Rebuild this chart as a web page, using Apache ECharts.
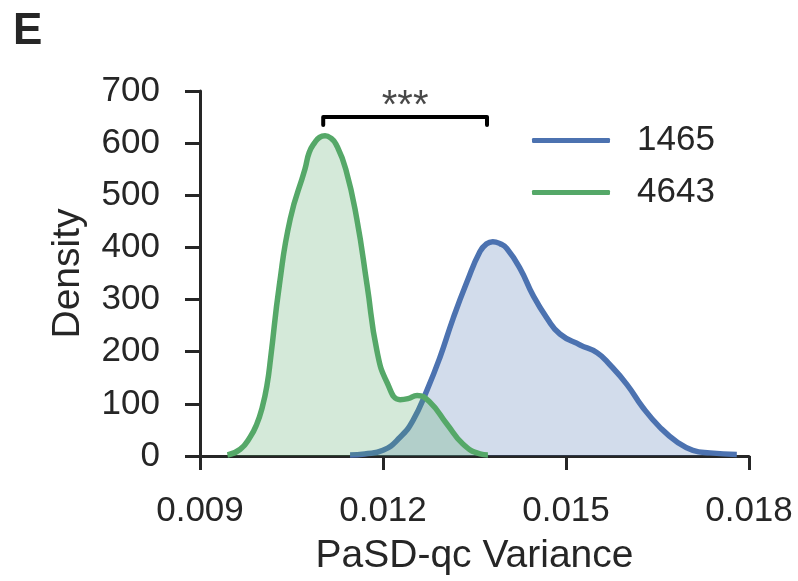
<!DOCTYPE html>
<html>
<head>
<meta charset="utf-8">
<script src="https://cdn.jsdelivr.net/npm/echarts@6/dist/echarts.min.js"></script>
<style>
  html, body { margin: 0; padding: 0; background: #fff; }
  #chart { width: 798px; height: 581px; }
</style>
</head>
<body>
<div id="chart"></div>
<script>
// KDE curves
const blueName = '1465';
const blueX = [0.01146, 0.01170, 0.01200, 0.01228, 0.01249, 0.01272, 0.01293, 0.01315, 0.01338, 0.01359, 0.01370,
  0.01380, 0.01392, 0.01403, 0.01425, 0.01446, 0.01469, 0.01490, 0.01523, 0.01551, 0.01572, 0.01600,
  0.01626, 0.01654, 0.01682, 0.01708, 0.01736, 0.01780];
const blueY = [2, 4, 11, 36, 68, 126, 188, 264, 335, 392, 407,
  411, 407, 398, 359, 308, 264, 234, 213, 198, 175, 137,
  93, 55, 27, 11, 6, 3];

const greenName = '4643';
const greenX = [0.00945, 0.00966, 0.00982, 0.00993, 0.01002, 0.01010, 0.01016, 0.01030, 0.01048, 0.01072, 0.01079,
  0.01088, 0.01096, 0.01105, 0.01114, 0.01123, 0.01139, 0.01157, 0.01174, 0.01190, 0.01207,
  0.01228, 0.01241, 0.01256, 0.01277, 0.01305, 0.01331, 0.01359, 0.01372];
const greenY = [2, 13, 36, 61, 93, 137, 190, 327, 455, 550, 582,
  601, 611, 614, 610, 598, 550, 455, 327, 202, 140,
  108, 110, 116, 103, 61, 23, 4, 2];

// significance bracket
const bracketX = [0.01102, 0.01102, 0.013705, 0.013705];
const bracketY = [635, 650, 650, 635];
const starLabel = '***';

const xTicks = { min: 0.009, max: 0.018, step: 0.003 };
const yTicks = { min: 0, max: 700, step: 100 };

const pairs = (xs, ys) => xs.map((x, i) => [x, ys[i]]);

const ink = '#262626';
const font = 'Liberation Sans, Arial, sans-serif';

const chart = echarts.init(document.getElementById('chart'));

const option = {
    backgroundColor: '#fff',
    animation: false,
    title: {
        text: 'E',
        left: 8,
        top: 5,
        textStyle: { fontFamily: font, fontSize: 44, fontWeight: 'bold', color: ink }
    },
    grid: { left: 200, right: 49, top: 91, bottom: 122 },
    legend: {
        data: [blueName, greenName],
        orient: 'vertical',
        left: 532,
        top: 123,
        padding: 0,
        icon: 'roundRect',
        itemWidth: 78,
        itemHeight: 5,
        itemGap: 17,
        textStyle: { fontFamily: font, fontSize: 35, color: ink, padding: [0, 0, 0, 22] }
    },
    xAxis: {
        type: 'value',
        min: xTicks.min,
        max: xTicks.max,
        interval: xTicks.step,
        name: 'PaSD-qc Variance',
        nameLocation: 'middle',
        nameGap: 81,
        nameTextStyle: { fontFamily: font, fontSize: 39, color: ink },
        axisLine: { lineStyle: { color: ink, width: 3 } },
        axisTick: { show: true, length: 14, lineStyle: { color: ink, width: 3 } },
        axisLabel: {
            margin: 38,
            fontFamily: font, fontSize: 35, color: ink,
            formatter: v => v.toFixed(3)
        },
        splitLine: { show: false }
    },
    yAxis: {
        type: 'value',
        min: yTicks.min,
        max: yTicks.max,
        interval: yTicks.step,
        name: 'Density',
        nameLocation: 'middle',
        nameGap: 112,
        nameTextStyle: { fontFamily: font, fontSize: 39, color: ink },
        axisLine: { show: true, lineStyle: { color: ink, width: 3 } },
        axisTick: { show: true, length: 15, lineStyle: { color: ink, width: 3 } },
        axisLabel: { margin: 40, fontFamily: font, fontSize: 35, color: ink },
        splitLine: { show: false }
    },
    series: [
        {
            name: blueName,
            type: 'line',
            data: pairs(blueX, blueY),
            smooth: 0.5,
            showSymbol: false,
            color: '#4C72B0',
            lineStyle: { width: 5.5, color: '#4C72B0' },
            areaStyle: { color: 'rgba(76,114,176,0.25)', opacity: 1 },
            z: 2
        },
        {
            name: greenName,
            type: 'line',
            data: pairs(greenX, greenY),
            smooth: 0.5,
            showSymbol: false,
            color: '#55A868',
            lineStyle: { width: 5.5, color: '#55A868' },
            areaStyle: { color: 'rgba(85,168,104,0.25)', opacity: 1 },
            z: 3
        },
        {
            name: 'bracket',
            type: 'line',
            data: pairs(bracketX, bracketY),
            showSymbol: false,
            silent: true,
            lineStyle: { width: 4, color: '#000', cap: 'round', join: 'round' },
            z: 4
        },
        {
            name: 'stars',
            type: 'scatter',
            data: [[(bracketX[0] + bracketX[2]) / 2, bracketY[1]]],
            symbolSize: 0,
            silent: true,
            label: {
                show: true,
                position: 'inside',
                offset: [0, -10],
                formatter: starLabel,
                fontFamily: font,
                fontSize: 40,
                color: '#1a1a1a'
            },
            z: 4
        }
    ]
};

chart.setOption(option);
</script>
</body>
</html>
